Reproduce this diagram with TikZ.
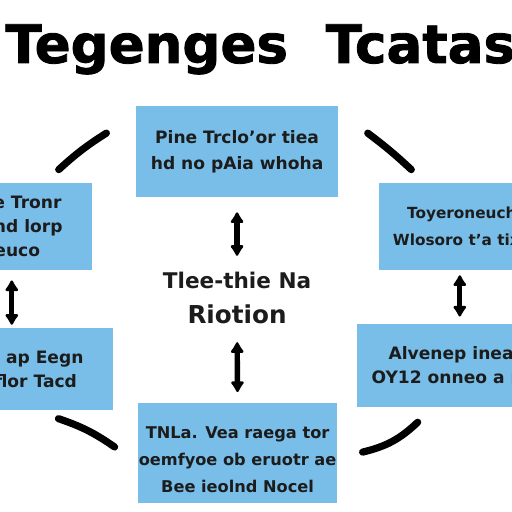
\documentclass[tikz,border=0pt]{standalone}
\usepackage{fontspec}
\setmainfont{DejaVu Sans}
\newfontfamily\titlefont[FakeBold=1.6]{DejaVu Sans}
\usetikzlibrary{arrows.meta}

\definecolor{boxblue}{RGB}{120,190,232}
\definecolor{ink}{RGB}{28,28,28}

\begin{document}
\begin{tikzpicture}[
		box/.style={rectangle, fill=boxblue, inner sep=0pt, align=center, text=ink,
			font=\bfseries\fontsize{9.5}{14.5}\selectfont},
		twoway/.style={{Latex[round,length=7pt,width=9pt]}-{Latex[round,length=7pt,width=9pt]}, line width=3pt},
		swoosh/.style={line width=4pt, line cap=round}
	]
					\useasboundingbox (0,0) rectangle (10,10);
					\clip (0,0) rectangle (10,10);

					%% title
					\node[anchor=base west, inner sep=0pt,
						font=\titlefont\bfseries\fontsize{29.5}{34}\selectfont
					] (title) at (0.1, 8.77) {Tegenges\hspace{21pt}Tcatas};

					%% boxes
					\node[box, minimum width=3.95cm, minimum height=1.78cm] (pt) at (4.63, 7.04) {Pine Trclo'or tiea\\hd no pAia whoha};
					\node[box, minimum width=3.20cm, minimum height=1.70cm, font=\bfseries\fontsize{9.5}{13.2}\selectfont] (pl1) at (0.20, 5.58) {Cose Tronr\\Baand lorp\\Geuco};
					\node[box, minimum width=3.01cm, minimum height=1.60cm, font=\bfseries\fontsize{9.5}{13}\selectfont] (pl2) at (0.70, 2.79) {£ ap Eegn\\flor Tacd};
					\node[box, minimum width=3.24cm, minimum height=1.70cm, font=\bfseries\fontsize{8.5}{15.5}\selectfont] (pr1) at (9.02, 5.58) {Toyeroneuch\\Wlosoro t'a tixd};
					\node[box, minimum width=3.67cm, minimum height=1.62cm, font=\bfseries\fontsize{9.5}{13.4}\selectfont] (pr2) at (8.81, 2.86) {Alvenep inea\\OY12 onneo a ra};
					\node[box, minimum width=3.89cm, minimum height=1.95cm, font=\bfseries\fontsize{9}{15}\selectfont] (pb) at (4.64, 1.15) {\rule{0pt}{14pt}TNLa. Vea raega tor\\oemfyoe ob eruotr ae\\Bee ieolnd Nocel};

					%% middle
					\node[inner sep=0pt, align=center, text=ink,
						font=\bfseries\fontsize{13.7}{19.5}\selectfont
					] (hub) at (4.63, 4.18) {{\fontsize{12}{19.5}\selectfont Tlee-thie Na}\\Riotion};

					\coordinate (colL) at (0.23, 0);
					\coordinate (colR) at (8.98, 0);

					\draw[twoway, shorten <=0.29cm, shorten >=0.31cm] (pt.south) -- (hub.north);
					\draw[twoway, shorten <=0.35cm, shorten >=0.21cm] (hub.south) -- (pb.north);
					\draw[twoway, shorten <=0.2cm, shorten >=0.06cm] (pl1.south -| colL) -- (pl2.north -| colL);
					\draw[twoway, shorten <=0.1cm, shorten >=0.14cm] (pr1.south -| colR) -- (pr2.north -| colR);

					%% cycle strokes
					\draw[swoosh] ([shift={(-0.66,0.25)}]pl1.north east) to[bend left=5] ([shift={(-0.57,0.36)}]pt.west);
					\draw[swoosh] ([shift={(0.57,0.36)}]pt.east) to[bend left=3] ([shift={(0.64,0.25)}]pr1.north west);
					\draw[swoosh] ([shift={(-1.07,-0.16)}]pl2.south east) to[bend left=8] ([shift={(-0.45,0.12)}]pb.west);
					\draw[swoosh] ([shift={(0.49,0.02)}]pb.east) to[bend right=15] ([shift={(1.19,-0.29)}]pr2.south west);
				\end{tikzpicture}
\end{document}
